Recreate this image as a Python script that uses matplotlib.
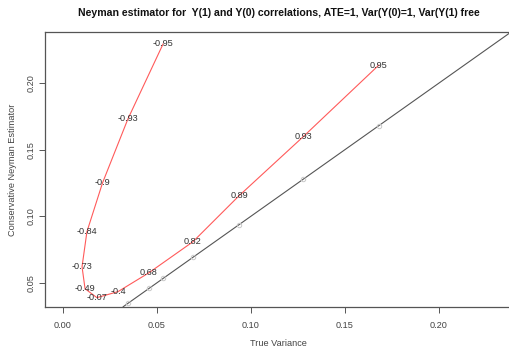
import matplotlib.pyplot as plt
import numpy as np

plt.rcParams["font.family"] = ["Liberation Sans", "DejaVu Sans"]

# correlation between Y(1) and Y(0), with true variance and Neyman estimate
rho_labels = ["-0.95", "-0.93", "-0.9", "-0.84", "-0.73", "-0.49", "-0.07",
              "-0.4", "0.68", "0.82", "0.89", "0.93", "0.95"]
true_var = [0.0534, 0.0347, 0.0212, 0.0129, 0.0103, 0.0119, 0.0182,
            0.0294, 0.0459, 0.0693, 0.0938, 0.1278, 0.1682]
neyman_var = [0.2295, 0.1732, 0.1252, 0.0885, 0.0622, 0.0457, 0.0390,
              0.0435, 0.0577, 0.0810, 0.1155, 0.1597, 0.2137]

x_ticks = [0.00, 0.05, 0.10, 0.15, 0.20]
y_ticks = [0.05, 0.10, 0.15, 0.20]

W, H = 510, 347
fig = plt.figure(figsize=(W / 100, H / 100), dpi=100)
ax = fig.add_axes([45 / W, (H - 306.7) / H, (512 - 45) / W, (306.7 - 32) / H])

axis_col = "#555555"
txt_col = "#333333"

ax.axline((0, 0), slope=1, color="#555555", lw=0.8)
ax.plot(true_var, true_var, "o", mfc="none", mec="#c8c8c8", ms=3.2, mew=0.7)
ax.plot(true_var, neyman_var, color="#ff5a5a", lw=0.8)
for lab, xv, yv in zip(rho_labels, true_var, neyman_var):
    ax.text(xv, yv, lab, ha="center", va="center", fontsize=6.6, color=txt_col)

ax.set_xlim(-0.0094, (512 - 62.7) / 1880)
ax.set_ylim(0.0322, 0.2385)
ax.set_xticks(x_ticks)
ax.set_xticklabels([f"{v:.2f}" for v in x_ticks])
ax.set_yticks(y_ticks)
ax.set_yticklabels([f"{v:.2f}" for v in y_ticks], rotation=90, va="center")
ax.tick_params(direction="out", length=4.5, width=0.7, colors=axis_col,
               labelcolor="#444444", labelsize=6.6)
ax.tick_params(axis="x", pad=6)
ax.tick_params(axis="y", pad=2)
for side in ["left", "bottom", "top", "right"]:
    ax.spines[side].set_color(axis_col)
    ax.spines[side].set_linewidth(0.9)

ax.set_xlabel("True Variance", fontsize=6.6, color="#444444", labelpad=6)
ax.set_ylabel("Conservative Neyman Estimator", fontsize=6.6, color="#444444",
              labelpad=7)
fig.text(279 / W, 1 - 13 / H,
         "Neyman estimator for  Y(1) and Y(0) correlations, ATE=1, Var(Y(0)=1, Var(Y(1) free",
         ha="center", va="center", fontsize=7.6, fontweight="bold", color="#111111")

fig.savefig("out.png", dpi=100)
